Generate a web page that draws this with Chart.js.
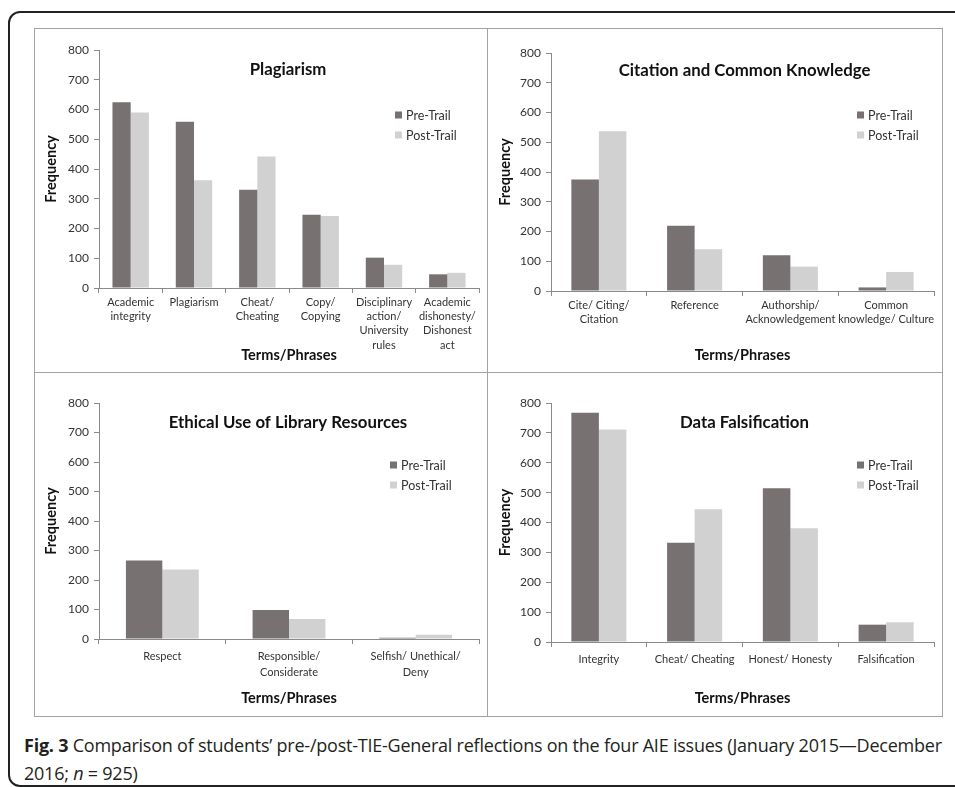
<!DOCTYPE html>
<html>
<head>
<meta charset="utf-8">
<script src="https://cdn.jsdelivr.net/npm/chart.js@4.4.1/dist/chart.umd.min.js"></script>
<style>
  body { margin: 0; background: #fff; width: 955px; height: 787px; overflow: hidden; position: relative; font-family: Lato, sans-serif; }
  .frame { position: absolute; left: 8px; top: 11px; width: 970px; height: 772px; border: 2px solid #222; border-radius: 12px; }
  .cell { position: absolute; border: 1px solid #a3a3a3; box-sizing: border-box; }
  .cell canvas { position: absolute; left: 0; top: 0; }
  .caption { position: absolute; left: 24px; top: 731px; width: 940px; white-space: nowrap; font-family: "Open Sans", sans-serif; font-size: 18px; letter-spacing: -0.23px; line-height: 28px; color: #231f20; }
  .caption b { font-weight: 700; }
</style>
</head>
<body>
<div class="frame"></div>
<div class="cell" style="left:34px;top:28px;width:454px;height:345px"><canvas id="c1"></canvas></div>
<div class="cell" style="left:487px;top:28px;width:456px;height:345px"><canvas id="c2"></canvas></div>
<div class="cell" style="left:34px;top:372px;width:454px;height:345px"><canvas id="c3"></canvas></div>
<div class="cell" style="left:487px;top:372px;width:456px;height:345px"><canvas id="c4"></canvas></div>
<div class="caption"><b>Fig. 3</b> Comparison of students’ pre-/post-TIE-General reflections on the four AIE issues (January 2015—December<br>2016; <i>n</i> = 925)</div>

<script>
// series names
const seriesNames = ['Pre-Trail', 'Post-Trail'];

// Plagiarism
const plagTerms = [['Academic', 'integrity'], 'Plagiarism', ['Cheat/', 'Cheating'], ['Copy/', 'Copying'],
  ['Disciplinary', 'action/', 'University', 'rules'], ['Academic', 'dishonesty/', 'Dishonest', 'act']];
const plagPre = [624, 559, 330, 246, 102, 46];
const plagPost = [590, 362, 442, 242, 78, 51];

// Citation and Common Knowledge
const citeTerms = [['Cite/ Citing/', 'Citation'], 'Reference', ['Authorship/', 'Acknowledgement'], ['Common', 'knowledge/ Culture']];
const citePre = [375, 219, 120, 12];
const citePost = [537, 140, 82, 64];

// Ethical Use of Library Resources
const libTerms = ['Respect', ['Responsible/', 'Considerate'], ['Selfish/ Unethical/', 'Deny']];
const libPre = [266, 98, 4];
const libPost = [236, 68, 14];

// Data Falsification
const falsTerms = ['Integrity', 'Cheat/ Cheating', 'Honest/ Honesty', 'Falsification'];
const falsPre = [767, 332, 515, 58];
const falsPost = [711, 444, 381, 66];

const yTicks = [0, 100, 200, 300, 400, 500, 600, 700, 800];

const preColor = '#777171';
const postColor = '#d1d1d1';

// title + legend drawn inside the plot area
const overlay = {
  id: 'overlay',
  afterDraw(chart, args, opts) {
    const ctx = chart.ctx;
    const a = chart.chartArea;
    ctx.save();
    ctx.fillStyle = '#111';
    ctx.font = 'bold 16.8px Lato';
    ctx.textAlign = 'center';
    ctx.textBaseline = 'middle';
    ctx.fillText(opts.title, (a.left + a.right) / 2 + opts.titleDx, a.top + opts.titleDy);
    ctx.font = '12.5px Lato';
    ctx.textAlign = 'left';
    chart.data.datasets.forEach((ds, i) => {
      const y = a.top + opts.legendY + i * 20;
      const x = a.right - opts.legendX;
      ctx.fillStyle = ds.backgroundColor;
      ctx.fillRect(x, y - 3.5, 7, 7);
      ctx.fillStyle = '#333';
      ctx.fillText(ds.label, x + 11, y + 0.5);
    });
    ctx.restore();
  }
};

function makeChart(id, w, h, terms, pre, post, p) {
  const cv = document.getElementById(id);
  cv.width = w; cv.height = h;
  cv.style.width = w + 'px'; cv.style.height = h + 'px';
  return new Chart(cv, {
    type: 'bar',
    data: {
      labels: terms,
      datasets: [
        { label: seriesNames[0], data: pre, backgroundColor: preColor },
        { label: seriesNames[1], data: post, backgroundColor: postColor }
      ]
    },
    options: {
      responsive: false,
      animation: false,
      devicePixelRatio: 1,
      categoryPercentage: 0.575,
      barPercentage: 1,
      layout: { padding: { top: p.top, right: p.right, left: 0, bottom: 0 } },
      plugins: {
        legend: { display: false },
        tooltip: { enabled: false },
        overlay: { title: p.title, titleDx: p.titleDx, titleDy: p.titleDy, legendX: p.legendX, legendY: p.legendY }
      },
      scales: {
        x: {
          grid: { display: true, drawOnChartArea: false, tickLength: 5, color: '#8a8a8a' },
          border: { color: '#8a8a8a', width: 1 },
          ticks: { autoSkip: false, maxRotation: 0, minRotation: 0, padding: p.xPad,
            color: '#333', font: { family: 'Lato', size: 11, lineHeight: p.xLine } },
          title: { display: true, text: 'Terms/Phrases', color: '#111',
            font: { family: 'Lato', size: 14.5, weight: 'bold', lineHeight: 1.2 },
            padding: { top: 0, bottom: p.xTitlePad } },
          afterFit(scale) { scale.height = p.xHeight; }
        },
        y: {
          min: 0, max: 800,
          afterBuildTicks(scale) { scale.ticks = yTicks.map(v => ({ value: v })); },
          grid: { display: true, drawOnChartArea: false, tickLength: 5, color: '#8a8a8a' },
          border: { color: '#8a8a8a', width: 1 },
          ticks: { padding: 5, color: '#333', font: { family: 'Lato', size: 12 } },
          title: { display: true, text: 'Frequency', color: '#111',
            font: { family: 'Lato', size: 14.5, weight: 'bold', lineHeight: 1.2 },
            padding: { top: p.yTitlePad, bottom: 0 } },
          afterFit(scale) { scale.width = p.left; }
        }
      }
    },
    plugins: [overlay]
  });
}

makeChart('c1', 453, 344, plagTerms, plagPre, plagPost,
  { title: 'Plagiarism', titleDx: -1, titleDy: 20, legendX: 84, legendY: 65,
    top: 21, right: 9, left: 64, xHeight: 85, xPad: 2, xLine: 1.3, xTitlePad: 9, yTitlePad: 7.5 });
makeChart('c2', 455, 344, citeTerms, citePre, citePost,
  { title: 'Citation and Common Knowledge', titleDx: 2, titleDy: 18, legendX: 77, legendY: 62,
    top: 24, right: 9, left: 63, xHeight: 82, xPad: 2, xLine: 1.3, xTitlePad: 9, yTitlePad: 9 });
makeChart('c3', 453, 344, libTerms, libPre, libPost,
  { title: 'Ethical Use of Library Resources', titleDx: -1, titleDy: 20, legendX: 89, legendY: 62,
    top: 30, right: 9, left: 64, xHeight: 78, xPad: 4, xLine: 1.5, xTitlePad: 10, yTitlePad: 8 });
makeChart('c4', 455, 344, falsTerms, falsPre, falsPost,
  { title: 'Data Falsification', titleDx: 2, titleDy: 20, legendX: 77, legendY: 62,
    top: 30, right: 9, left: 63, xHeight: 75, xPad: 5, xLine: 1.3, xTitlePad: 10, yTitlePad: 9 });
</script>
</body>
</html>
